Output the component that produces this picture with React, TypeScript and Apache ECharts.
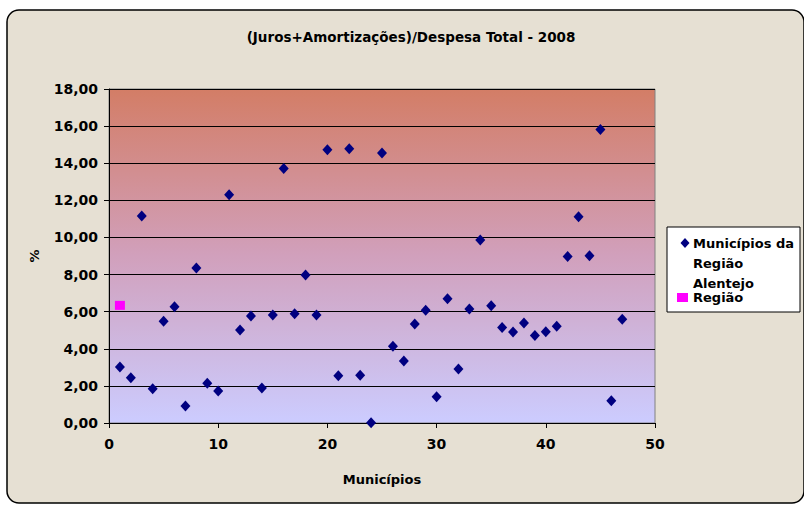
import React, { useEffect, useRef } from "react";
import * as echarts from "echarts";

const municipalityIndex: number[] = [
  1, 2, 3, 4, 5, 6, 7, 8, 9, 10, 11, 12, 13, 14, 15, 16, 17, 18, 19, 20, 21, 22, 23, 24,
  25, 26, 27, 28, 29, 30, 31, 32, 33, 34, 35, 36, 37, 38, 39, 40, 41, 42, 43, 44, 45, 46, 47,
];
const municipalityValues: number[] = [
  3.02, 2.44, 11.15, 1.85, 5.49, 6.27, 0.92, 8.35, 2.14, 1.72, 12.3, 5.01, 5.76, 1.89, 5.82,
  13.72, 5.89, 7.97, 5.82, 14.73, 2.55, 14.78, 2.57, 0.02, 14.55, 4.13, 3.34, 5.33, 6.07, 1.42,
  6.7, 2.91, 6.14, 9.86, 6.32, 5.15, 4.9, 5.39, 4.72, 4.92, 5.21, 8.97, 11.12, 9.01, 15.82, 1.2,
  5.59,
];
const regionPoint: number[] = [1, 6.34];

const titleText = "(Juros+Amortizações)/Despesa Total - 2008";
const xAxisName = "Municípios";
const yAxisName = "%";
const legendLines: string[] = ["Municípios da", "Região", "Alentejo"];
const legendRegion = "Região";

const FONT = "'DejaVu Sans', sans-serif";

export default function App() {
  const ref = useRef<HTMLDivElement>(null);

  useEffect(() => {
    if (!ref.current) return;
    const chart = echarts.init(ref.current, null, { renderer: "svg" });
    const munData = municipalityIndex.map((x, i) => [x, municipalityValues[i]]);

    chart.setOption({
      animation: false,
      backgroundColor: "transparent",
      textStyle: { fontFamily: FONT },
      title: {
        text: titleText,
        left: 406,
        textAlign: "center",
        top: 25,
        textStyle: { fontSize: 13.5, fontWeight: "bold", color: "#000", fontFamily: FONT },
      },
      grid: {
        left: 109,
        right: 149,
        top: 89,
        bottom: 82,
        show: true,
        borderColor: "#808080",
        borderWidth: 1,
        backgroundColor: new echarts.graphic.LinearGradient(0, 0, 0, 1, [
          { offset: 0, color: "#D37D66" },
          { offset: 0.5, color: "#D1A0BC" },
          { offset: 1, color: "#CCCCFF" },
        ]),
      },
      xAxis: {
        type: "value",
        min: 0,
        max: 50,
        interval: 10,
        name: xAxisName,
        nameLocation: "middle",
        nameGap: 50,
        nameTextStyle: { fontSize: 13, fontWeight: "bold", color: "#000", fontFamily: FONT },
        axisLine: { show: true, lineStyle: { color: "#000", width: 1 } },
        axisTick: { show: true, length: 5, lineStyle: { color: "#000" } },
        axisLabel: { margin: 14, fontSize: 14, fontWeight: "bold", color: "#000", fontFamily: FONT },
        splitLine: { show: false },
      },
      yAxis: {
        type: "value",
        min: 0,
        max: 18,
        interval: 2,
        name: yAxisName,
        nameLocation: "middle",
        nameGap: 68,
        nameRotate: 90,
        nameTextStyle: { fontSize: 13, fontWeight: "bold", color: "#000", fontFamily: FONT },
        axisLine: { show: true, lineStyle: { color: "#000", width: 1 } },
        axisTick: { show: true, length: 5, lineStyle: { color: "#000" } },
        axisLabel: {
          margin: 11,
          fontSize: 14,
          fontWeight: "bold",
          color: "#000",
          fontFamily: FONT,
          formatter: (v: number) => v.toFixed(2).replace(".", ","),
        },
        splitLine: { show: true, lineStyle: { color: "#000", width: 1 } },
      },
      series: [
        {
          name: "Municípios da Região Alentejo",
          type: "scatter",
          symbol: "diamond",
          symbolSize: [10, 11],
          itemStyle: { color: "#000080", opacity: 1 },
          data: munData,
        },
        {
          name: "Região",
          type: "scatter",
          symbol: "rect",
          symbolSize: [10, 9],
          itemStyle: { color: "#FF00FF", opacity: 1 },
          data: [regionPoint],
        },
      ],
      graphic: [
        {
          type: "rect",
          z: -10,
          shape: { x: 7, y: 10, width: 797, height: 493, r: 12 },
          style: { fill: "#E6E0D3", stroke: "#000", lineWidth: 1.5 },
        },
        {
          type: "rect",
          shape: { x: 667, y: 227, width: 133, height: 85 },
          style: { fill: "#FFFFFF", stroke: "#000", lineWidth: 1 },
        },
        {
          type: "polygon",
          shape: { points: [[685, 238], [689.5, 243], [685, 248], [680.5, 243]] },
          style: { fill: "#000080" },
        },
        ...legendLines.map((t, i) => ({
          type: "text",
          x: 693,
          y: 243 + i * 20,
          style: {
            text: t,
            fill: "#000",
            font: `bold 13px ${FONT}`,
            verticalAlign: "middle",
            align: "left",
          },
        })),
        {
          type: "rect",
          shape: { x: 677, y: 293, width: 11, height: 9 },
          style: { fill: "#FF00FF" },
        },
        {
          type: "text",
          x: 693,
          y: 297,
          style: {
            text: legendRegion,
            fill: "#000",
            font: `bold 13px ${FONT}`,
            verticalAlign: "middle",
            align: "left",
          },
        },
      ],
    });

    return () => chart.dispose();
  }, []);

  return (
    <div
      ref={ref}
      style={{ position: "absolute", left: 0, top: 0, width: 804, height: 505 }}
    />
  );
}
